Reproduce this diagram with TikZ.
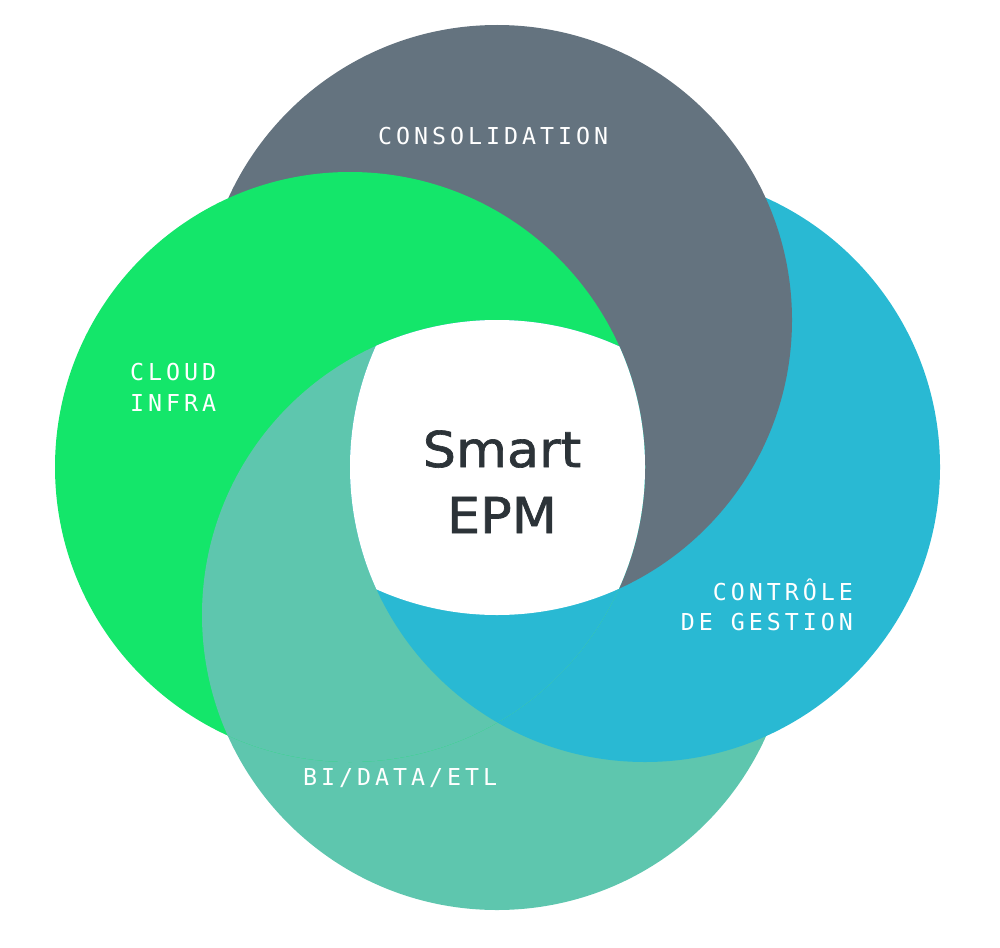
\documentclass[tikz,border=0pt]{standalone}
\usepackage{fontspec}
\newfontfamily\labelfont[LetterSpace=17]{DejaVu Sans Mono}
\newfontfamily\titlefont[FakeBold=1.3]{DejaVu Sans}
\definecolor{cgray}{HTML}{64737F}
\definecolor{cgreen}{HTML}{14E66A}
\definecolor{ccyan}{HTML}{29B9D3}
\definecolor{cfoam}{HTML}{5EC6AE}
\definecolor{cdark}{HTML}{2C3338}
\begin{document}
\begin{tikzpicture}[x=1pt,y=-1pt,
  lbl/.style={inner sep=0pt,text=white,font=\labelfont\fontsize{23.3}{28}\selectfont},
  ttl/.style={inner sep=0pt,text=cdark,font=\titlefont\fontsize{49.4}{60}\selectfont,xscale=1.06}]
\useasboundingbox (0,0) rectangle (1000,947);
\def\R{295}
\coordinate (cg) at (497,320);
\coordinate (cl) at (350,467);
\coordinate (cr) at (645,467);
\coordinate (cb) at (497,615);
% base layers
\fill[cfoam] (cb) circle (\R);
\fill[ccyan] (cr) circle (\R);
\fill[cgray] (cg) circle (\R);
\fill[cgreen] (cl) circle (\R);
% cyclic corrections
\begin{scope}
  \clip (cl) circle (\R);
  \fill[cfoam] (cb) circle (\R);
  \clip (cb) circle (\R);
  \fill[ccyan] (cr) circle (\R);
\end{scope}
% centre: intersection of all four
\begin{scope}
  \clip (cl) circle (\R);
  \clip (cb) circle (\R);
  \clip (cr) circle (\R);
  \fill[white] (cg) circle (\R);
\end{scope}
% labels
\node[lbl,anchor=base west] (cons) at (378,144) {CONSOLIDATION};
\node[lbl,anchor=base west] (cloud) at (130,380) {CLOUD};
\node[lbl,anchor=base west] (infra) at (130,411) {INFRA};
\node[lbl,anchor=base east] (ctrl) at (853,600) {CONTRÔLE};
\node[lbl,anchor=base east] (gest) at (853,630) {DE GESTION};
\node[lbl,anchor=base west] (bi) at (303,785) {BI/DATA/ETL};
\node[ttl,anchor=base] (smart) at (502,467) {Smart};
\node[ttl,anchor=base] (epm) at (502,533) {EPM};
\end{tikzpicture}
\end{document}
